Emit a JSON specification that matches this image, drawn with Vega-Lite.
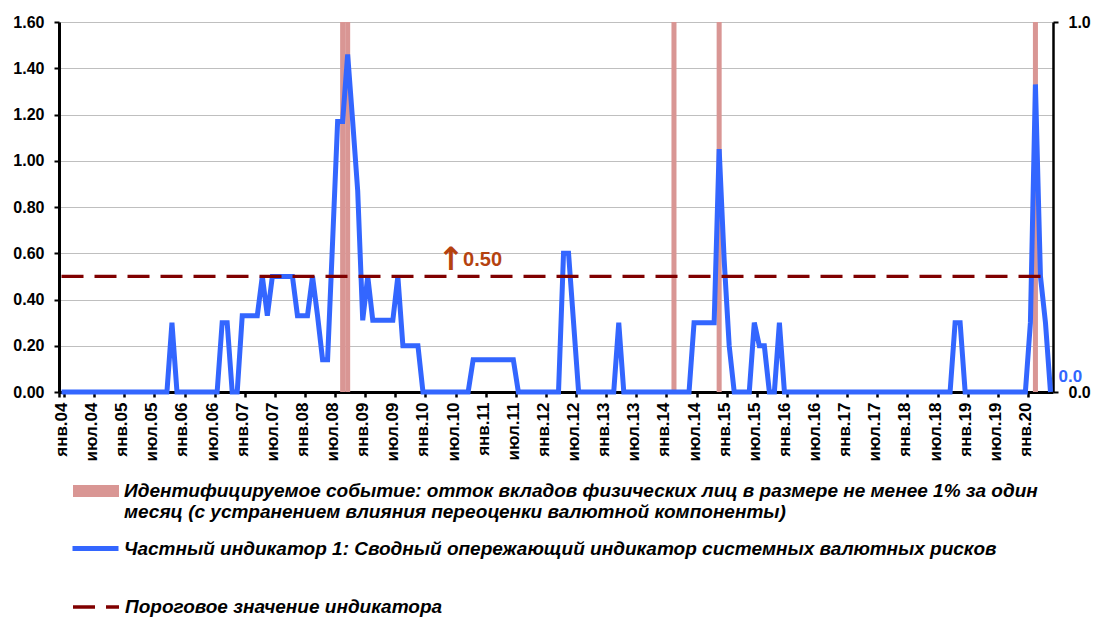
{
  "$schema": "https://vega.github.io/schema/vega-lite/v6.json",
  "width": 994,
  "height": 370,
  "autosize": {"type": "none"},
  "padding": {"left": 59, "top": 22, "right": 44, "bottom": 226},
  "background": "white",
  "config": {
    "font": "Liberation Sans",
    "view": {"stroke": null},
    "axis": {"labelFont": "Liberation Sans", "labelFontWeight": "bold", "labelColor": "#000000", "domainColor": "#000000", "tickColor": "#000000"},
    "legend": {"labelFont": "Liberation Sans", "labelFontWeight": "bold", "labelFontStyle": "italic", "labelFontSize": 19, "labelColor": "#000000", "labelLimit": 1100, "padding": 0, "offset": 0, "labelOffset": 6}
  },
  "data": {"values": [
    {"month":"янв.04","value":0,"event":0,"threshold":0.5},{"month":"фев.04","value":0,"event":0,"threshold":0.5},{"month":"мар.04","value":0,"event":0,"threshold":0.5},{"month":"апр.04","value":0,"event":0,"threshold":0.5},{"month":"май.04","value":0,"event":0,"threshold":0.5},{"month":"июн.04","value":0,"event":0,"threshold":0.5},{"month":"июл.04","value":0,"event":0,"threshold":0.5},{"month":"авг.04","value":0,"event":0,"threshold":0.5},{"month":"сен.04","value":0,"event":0,"threshold":0.5},{"month":"окт.04","value":0,"event":0,"threshold":0.5},{"month":"ноя.04","value":0,"event":0,"threshold":0.5},{"month":"дек.04","value":0,"event":0,"threshold":0.5},
    {"month":"янв.05","value":0,"event":0,"threshold":0.5},{"month":"фев.05","value":0,"event":0,"threshold":0.5},{"month":"мар.05","value":0,"event":0,"threshold":0.5},{"month":"апр.05","value":0,"event":0,"threshold":0.5},{"month":"май.05","value":0,"event":0,"threshold":0.5},{"month":"июн.05","value":0,"event":0,"threshold":0.5},{"month":"июл.05","value":0,"event":0,"threshold":0.5},{"month":"авг.05","value":0,"event":0,"threshold":0.5},{"month":"сен.05","value":0,"event":0,"threshold":0.5},{"month":"окт.05","value":0,"event":0,"threshold":0.5},{"month":"ноя.05","value":0.3,"event":0,"threshold":0.5},{"month":"дек.05","value":0,"event":0,"threshold":0.5},
    {"month":"янв.06","value":0,"event":0,"threshold":0.5},{"month":"фев.06","value":0,"event":0,"threshold":0.5},{"month":"мар.06","value":0,"event":0,"threshold":0.5},{"month":"апр.06","value":0,"event":0,"threshold":0.5},{"month":"май.06","value":0,"event":0,"threshold":0.5},{"month":"июн.06","value":0,"event":0,"threshold":0.5},{"month":"июл.06","value":0,"event":0,"threshold":0.5},{"month":"авг.06","value":0,"event":0,"threshold":0.5},{"month":"сен.06","value":0.3,"event":0,"threshold":0.5},{"month":"окт.06","value":0.3,"event":0,"threshold":0.5},{"month":"ноя.06","value":0,"event":0,"threshold":0.5},{"month":"дек.06","value":0,"event":0,"threshold":0.5},
    {"month":"янв.07","value":0.33,"event":0,"threshold":0.5},{"month":"фев.07","value":0.33,"event":0,"threshold":0.5},{"month":"мар.07","value":0.33,"event":0,"threshold":0.5},{"month":"апр.07","value":0.33,"event":0,"threshold":0.5},{"month":"май.07","value":0.5,"event":0,"threshold":0.5},{"month":"июн.07","value":0.33,"event":0,"threshold":0.5},{"month":"июл.07","value":0.5,"event":0,"threshold":0.5},{"month":"авг.07","value":0.5,"event":0,"threshold":0.5},{"month":"сен.07","value":0.5,"event":0,"threshold":0.5},{"month":"окт.07","value":0.5,"event":0,"threshold":0.5},{"month":"ноя.07","value":0.5,"event":0,"threshold":0.5},{"month":"дек.07","value":0.33,"event":0,"threshold":0.5},
    {"month":"янв.08","value":0.33,"event":0,"threshold":0.5},{"month":"фев.08","value":0.33,"event":0,"threshold":0.5},{"month":"мар.08","value":0.5,"event":0,"threshold":0.5},{"month":"апр.08","value":0.33,"event":0,"threshold":0.5},{"month":"май.08","value":0.14,"event":0,"threshold":0.5},{"month":"июн.08","value":0.14,"event":0,"threshold":0.5},{"month":"июл.08","value":0.65,"event":0,"threshold":0.5},{"month":"авг.08","value":1.17,"event":0,"threshold":0.5},{"month":"сен.08","value":1.17,"event":1,"threshold":0.5},{"month":"окт.08","value":1.46,"event":1,"threshold":0.5},{"month":"ноя.08","value":1.17,"event":0,"threshold":0.5},{"month":"дек.08","value":0.87,"event":0,"threshold":0.5},
    {"month":"янв.09","value":0.31,"event":0,"threshold":0.5},{"month":"фев.09","value":0.5,"event":0,"threshold":0.5},{"month":"мар.09","value":0.31,"event":0,"threshold":0.5},{"month":"апр.09","value":0.31,"event":0,"threshold":0.5},{"month":"май.09","value":0.31,"event":0,"threshold":0.5},{"month":"июн.09","value":0.31,"event":0,"threshold":0.5},{"month":"июл.09","value":0.31,"event":0,"threshold":0.5},{"month":"авг.09","value":0.5,"event":0,"threshold":0.5},{"month":"сен.09","value":0.2,"event":0,"threshold":0.5},{"month":"окт.09","value":0.2,"event":0,"threshold":0.5},{"month":"ноя.09","value":0.2,"event":0,"threshold":0.5},{"month":"дек.09","value":0.2,"event":0,"threshold":0.5},
    {"month":"янв.10","value":0,"event":0,"threshold":0.5},{"month":"фев.10","value":0,"event":0,"threshold":0.5},{"month":"мар.10","value":0,"event":0,"threshold":0.5},{"month":"апр.10","value":0,"event":0,"threshold":0.5},{"month":"май.10","value":0,"event":0,"threshold":0.5},{"month":"июн.10","value":0,"event":0,"threshold":0.5},{"month":"июл.10","value":0,"event":0,"threshold":0.5,"note":"0.50"},{"month":"авг.10","value":0,"event":0,"threshold":0.5},{"month":"сен.10","value":0,"event":0,"threshold":0.5},{"month":"окт.10","value":0,"event":0,"threshold":0.5},{"month":"ноя.10","value":0.14,"event":0,"threshold":0.5},{"month":"дек.10","value":0.14,"event":0,"threshold":0.5},
    {"month":"янв.11","value":0.14,"event":0,"threshold":0.5},{"month":"фев.11","value":0.14,"event":0,"threshold":0.5},{"month":"мар.11","value":0.14,"event":0,"threshold":0.5},{"month":"апр.11","value":0.14,"event":0,"threshold":0.5},{"month":"май.11","value":0.14,"event":0,"threshold":0.5},{"month":"июн.11","value":0.14,"event":0,"threshold":0.5},{"month":"июл.11","value":0.14,"event":0,"threshold":0.5},{"month":"авг.11","value":0,"event":0,"threshold":0.5},{"month":"сен.11","value":0,"event":0,"threshold":0.5},{"month":"окт.11","value":0,"event":0,"threshold":0.5},{"month":"ноя.11","value":0,"event":0,"threshold":0.5},{"month":"дек.11","value":0,"event":0,"threshold":0.5},
    {"month":"янв.12","value":0,"event":0,"threshold":0.5},{"month":"фев.12","value":0,"event":0,"threshold":0.5},{"month":"мар.12","value":0,"event":0,"threshold":0.5},{"month":"апр.12","value":0,"event":0,"threshold":0.5},{"month":"май.12","value":0.6,"event":0,"threshold":0.5},{"month":"июн.12","value":0.6,"event":0,"threshold":0.5},{"month":"июл.12","value":0.3,"event":0,"threshold":0.5},{"month":"авг.12","value":0,"event":0,"threshold":0.5},{"month":"сен.12","value":0,"event":0,"threshold":0.5},{"month":"окт.12","value":0,"event":0,"threshold":0.5},{"month":"ноя.12","value":0,"event":0,"threshold":0.5},{"month":"дек.12","value":0,"event":0,"threshold":0.5},
    {"month":"янв.13","value":0,"event":0,"threshold":0.5},{"month":"фев.13","value":0,"event":0,"threshold":0.5},{"month":"мар.13","value":0,"event":0,"threshold":0.5},{"month":"апр.13","value":0.3,"event":0,"threshold":0.5},{"month":"май.13","value":0,"event":0,"threshold":0.5},{"month":"июн.13","value":0,"event":0,"threshold":0.5},{"month":"июл.13","value":0,"event":0,"threshold":0.5},{"month":"авг.13","value":0,"event":0,"threshold":0.5},{"month":"сен.13","value":0,"event":0,"threshold":0.5},{"month":"окт.13","value":0,"event":0,"threshold":0.5},{"month":"ноя.13","value":0,"event":0,"threshold":0.5},{"month":"дек.13","value":0,"event":0,"threshold":0.5},
    {"month":"янв.14","value":0,"event":0,"threshold":0.5},{"month":"фев.14","value":0,"event":0,"threshold":0.5},{"month":"мар.14","value":0,"event":1,"threshold":0.5},{"month":"апр.14","value":0,"event":0,"threshold":0.5},{"month":"май.14","value":0,"event":0,"threshold":0.5},{"month":"июн.14","value":0,"event":0,"threshold":0.5},{"month":"июл.14","value":0.3,"event":0,"threshold":0.5},{"month":"авг.14","value":0.3,"event":0,"threshold":0.5},{"month":"сен.14","value":0.3,"event":0,"threshold":0.5},{"month":"окт.14","value":0.3,"event":0,"threshold":0.5},{"month":"ноя.14","value":0.3,"event":0,"threshold":0.5},{"month":"дек.14","value":1.05,"event":1,"threshold":0.5},
    {"month":"янв.15","value":0.57,"event":0,"threshold":0.5},{"month":"фев.15","value":0.2,"event":0,"threshold":0.5},{"month":"мар.15","value":0,"event":0,"threshold":0.5},{"month":"апр.15","value":0,"event":0,"threshold":0.5},{"month":"май.15","value":0,"event":0,"threshold":0.5},{"month":"июн.15","value":0,"event":0,"threshold":0.5},{"month":"июл.15","value":0.3,"event":0,"threshold":0.5},{"month":"авг.15","value":0.2,"event":0,"threshold":0.5},{"month":"сен.15","value":0.2,"event":0,"threshold":0.5},{"month":"окт.15","value":0,"event":0,"threshold":0.5},{"month":"ноя.15","value":0,"event":0,"threshold":0.5},{"month":"дек.15","value":0.3,"event":0,"threshold":0.5},
    {"month":"янв.16","value":0,"event":0,"threshold":0.5},{"month":"фев.16","value":0,"event":0,"threshold":0.5},{"month":"мар.16","value":0,"event":0,"threshold":0.5},{"month":"апр.16","value":0,"event":0,"threshold":0.5},{"month":"май.16","value":0,"event":0,"threshold":0.5},{"month":"июн.16","value":0,"event":0,"threshold":0.5},{"month":"июл.16","value":0,"event":0,"threshold":0.5},{"month":"авг.16","value":0,"event":0,"threshold":0.5},{"month":"сен.16","value":0,"event":0,"threshold":0.5},{"month":"окт.16","value":0,"event":0,"threshold":0.5},{"month":"ноя.16","value":0,"event":0,"threshold":0.5},{"month":"дек.16","value":0,"event":0,"threshold":0.5},
    {"month":"янв.17","value":0,"event":0,"threshold":0.5},{"month":"фев.17","value":0,"event":0,"threshold":0.5},{"month":"мар.17","value":0,"event":0,"threshold":0.5},{"month":"апр.17","value":0,"event":0,"threshold":0.5},{"month":"май.17","value":0,"event":0,"threshold":0.5},{"month":"июн.17","value":0,"event":0,"threshold":0.5},{"month":"июл.17","value":0,"event":0,"threshold":0.5},{"month":"авг.17","value":0,"event":0,"threshold":0.5},{"month":"сен.17","value":0,"event":0,"threshold":0.5},{"month":"окт.17","value":0,"event":0,"threshold":0.5},{"month":"ноя.17","value":0,"event":0,"threshold":0.5},{"month":"дек.17","value":0,"event":0,"threshold":0.5},
    {"month":"янв.18","value":0,"event":0,"threshold":0.5},{"month":"фев.18","value":0,"event":0,"threshold":0.5},{"month":"мар.18","value":0,"event":0,"threshold":0.5},{"month":"апр.18","value":0,"event":0,"threshold":0.5},{"month":"май.18","value":0,"event":0,"threshold":0.5},{"month":"июн.18","value":0,"event":0,"threshold":0.5},{"month":"июл.18","value":0,"event":0,"threshold":0.5},{"month":"авг.18","value":0,"event":0,"threshold":0.5},{"month":"сен.18","value":0,"event":0,"threshold":0.5},{"month":"окт.18","value":0,"event":0,"threshold":0.5},{"month":"ноя.18","value":0.3,"event":0,"threshold":0.5},{"month":"дек.18","value":0.3,"event":0,"threshold":0.5},
    {"month":"янв.19","value":0,"event":0,"threshold":0.5},{"month":"фев.19","value":0,"event":0,"threshold":0.5},{"month":"мар.19","value":0,"event":0,"threshold":0.5},{"month":"апр.19","value":0,"event":0,"threshold":0.5},{"month":"май.19","value":0,"event":0,"threshold":0.5},{"month":"июн.19","value":0,"event":0,"threshold":0.5},{"month":"июл.19","value":0,"event":0,"threshold":0.5},{"month":"авг.19","value":0,"event":0,"threshold":0.5},{"month":"сен.19","value":0,"event":0,"threshold":0.5},{"month":"окт.19","value":0,"event":0,"threshold":0.5},{"month":"ноя.19","value":0,"event":0,"threshold":0.5},{"month":"дек.19","value":0,"event":0,"threshold":0.5},
    {"month":"янв.20","value":0,"event":0,"threshold":0.5},{"month":"фев.20","value":0.3,"event":0,"threshold":0.5},{"month":"мар.20","value":1.33,"event":1,"threshold":0.5},{"month":"апр.20","value":0.5,"event":0,"threshold":0.5},{"month":"май.20","value":0.3,"event":0,"threshold":0.5},{"month":"июн.20","value":0,"event":0,"threshold":0.5}
  ]},
  "encoding": {
    "x": {
      "field": "month", "type": "ordinal", "sort": null,
      "scale": {"type": "band", "paddingInner": 0, "paddingOuter": 0},
      "axis": {
        "title": null,
        "values": ["янв.04","июл.04","янв.05","июл.05","янв.06","июл.06","янв.07","июл.07","янв.08","июл.08","янв.09","июл.09","янв.10","июл.10","янв.11","июл.11","янв.12","июл.12","янв.13","июл.13","янв.14","июл.14","янв.15","июл.15","янв.16","июл.16","янв.17","июл.17","янв.18","июл.18","янв.19","июл.19","янв.20"],
        "labelAngle": -90, "labelFontSize": 17, "labelPadding": 5,
        "tickBand": "extent", "tickSize": 5, "tickWidth": 2.5, "tickColor": "#000000",
        "domain": true, "domainColor": "#000000", "domainWidth": 3, "grid": false, "labelOverlap": false, "labelBound": false
      }
    }
  },
  "layer": [
    {
      "mark": {"type": "bar"},
      "encoding": {
        "y": {
          "field": "event", "type": "quantitative",
          "scale": {"domain": [0, 1], "nice": false},
          "axis": {"orient": "right", "title": null, "values": [0, 1], "format": ".1f", "grid": false, "labelFontSize": 16, "labelPadding": 10, "ticks": true, "tickSize": 5, "tickWidth": 2, "tickColor": "#000000", "domain": true, "domainColor": "#000000", "domainWidth": 2.5}
        },
        "fill": {
          "datum": "Идентифицируемое событие: отток вкладов физических лиц в размере не менее 1% за один\nмесяц (с устранением влияния переоценки валютной компоненты)",
          "type": "nominal",
          "scale": {"range": ["#D99694"]},
          "legend": {"title": null, "orient": "none", "legendX": 14, "legendY": 446, "symbolType": "M-1,-0.26H1V0.26H-1Z", "symbolSize": 2116, "symbolStrokeWidth": 0, "labelOffset": 5, "labelExpr": "split(datum.label, '\\n')", "labelLineHeight": 22}
        }
      }
    },
    {
      "mark": {"type": "line", "strokeWidth": 5, "strokeJoin": "miter"},
      "encoding": {
        "y": {
          "field": "value", "type": "quantitative",
          "scale": {"domain": [0, 1.6], "nice": false},
          "axis": {"orient": "left", "title": null, "values": [0, 0.2, 0.4, 0.6, 0.8, 1.0, 1.2, 1.4, 1.6], "format": ".2f", "grid": true, "gridColor": "#BFBFBF", "gridWidth": 1, "labelFontSize": 16, "labelPadding": 10, "ticks": true, "tickSize": 5, "tickWidth": 2, "tickColor": "#000000", "domain": true, "domainColor": "#000000", "domainWidth": 3}
        },
        "stroke": {
          "datum": "Частный индикатор 1: Сводный опережающий индикатор системных валютных рисков",
          "type": "nominal",
          "scale": {"range": ["#3366FF"]},
          "legend": {"title": null, "orient": "none", "legendX": 11, "legendY": 501, "symbolType": "stroke", "symbolSize": 2116, "symbolStrokeWidth": 5, "labelOffset": 3}
        }
      }
    },
    {
      "mark": {"type": "line", "strokeWidth": 3.3, "color": "#800000"},
      "encoding": {
        "y": {"field": "threshold", "type": "quantitative", "scale": {"domain": [0, 1.6], "nice": false}, "axis": null},
        "strokeDash": {
          "datum": "Пороговое значение индикатора",
          "type": "nominal",
          "scale": {"range": [[22, 11]]},
          "legend": {"title": null, "orient": "none", "legendX": 12, "legendY": 560, "symbolType": "stroke", "symbolSize": 2116, "symbolStrokeWidth": 3.3, "symbolStrokeColor": "#800000", "labelOffset": 4}
        }
      }
    },
    {
      "transform": [{"filter": "datum.month == 'июн.20'"}],
      "mark": {"type": "text", "align": "left", "baseline": "middle", "dx": 8, "dy": -15, "fontSize": 17, "fontWeight": "bold", "color": "#3366FF"},
      "encoding": {
        "y": {"field": "value", "type": "quantitative", "scale": {"domain": [0, 1.6], "nice": false}, "axis": null},
        "text": {"field": "value", "type": "quantitative", "format": ".1f"}
      }
    },
    {
      "transform": [{"filter": "isValid(datum.note)"}],
      "mark": {"type": "text", "align": "center", "baseline": "alphabetic", "dx": -2, "dy": -6, "fontSize": 32, "fontWeight": "bold", "font": "DejaVu Sans", "color": "#B5420F"},
      "encoding": {
        "y": {"field": "threshold", "type": "quantitative", "scale": {"domain": [0, 1.6], "nice": false}, "axis": null},
        "text": {"value": "↑"}
      }
    },
    {
      "transform": [{"filter": "isValid(datum.note)"}],
      "mark": {"type": "text", "align": "left", "baseline": "alphabetic", "dx": 10, "dy": -10, "fontSize": 20, "fontWeight": "bold", "color": "#B5420F"},
      "encoding": {
        "y": {"field": "threshold", "type": "quantitative", "scale": {"domain": [0, 1.6], "nice": false}, "axis": null},
        "text": {"field": "note", "type": "nominal"}
      }
    }
  ],
  "resolve": {"scale": {"y": "independent"}}
}
